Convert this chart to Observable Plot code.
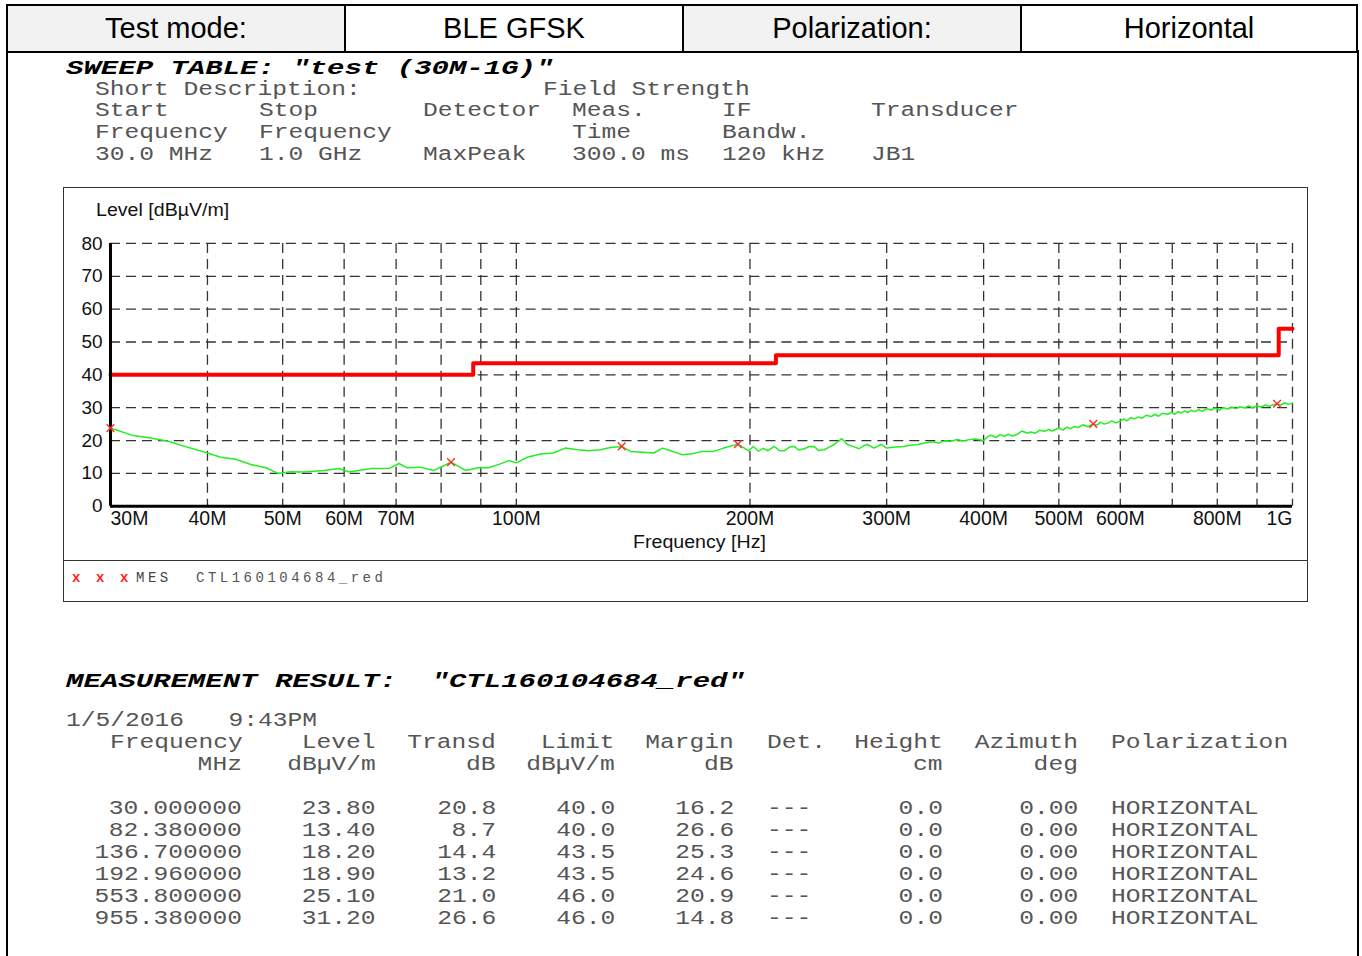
<!DOCTYPE html>
<html>
<head>
<meta charset="utf-8">
<script src="https://cdn.jsdelivr.net/npm/d3@7"></script>
<script src="https://cdn.jsdelivr.net/npm/@observablehq/plot@0.6"></script>
<style>
  html, body { margin: 0; padding: 0; background: #fff; }
  #page { position: relative; width: 1362px; height: 956px; overflow: hidden; background: #fff; }
  .abs { position: absolute; white-space: pre; }
  .mono { font-family: "Liberation Mono", "Courier New", monospace; font-size: 20.5px; line-height: 20px; color: #555; transform: scaleX(1.2); }
  .head { font-family: "Liberation Mono", "Courier New", monospace; font-size: 20.5px; line-height: 20px; font-weight: bold; font-style: italic; color: #000; transform: scaleX(1.415); }
  .cell { position: absolute; top: 4px; height: 49px; box-sizing: border-box; border: 2px solid #000; display: flex; align-items: center; justify-content: center; font-family: "Liberation Sans", Arial, sans-serif; font-size: 29px; color: #000; }
  #frame { position: absolute; left: 6px; top: 50px; width: 1349px; height: 920px; border-left: 2px solid #000; border-right: 2px solid #000; }
  #chartbox { position: absolute; left: 63px; top: 187px; width: 1243px; height: 413px; border: 1.5px solid #333; }
  #legendline { position: absolute; left: 0; top: 372px; width: 1243px; height: 0; border-top: 1.5px solid #333; }
</style>
</head>
<body>
<div id="page">
  <div id="frame"></div>
  <div class="cell" style="left:6px;width:340px;background:#f2f2f2">Test mode:</div>
  <div class="cell" style="left:344px;width:340px;background:#fff">BLE GFSK</div>
  <div class="cell" style="left:682px;width:340px;background:#f2f2f2">Polarization:</div>
  <div class="cell" style="left:1020px;width:338px;background:#fff">Horizontal</div>
  <div id="chartbox"><div id="legendline"></div></div>
</div>
<script>
// ---------- data ----------
const traceFreq = [30,32.1,33.8,35.6,37.3,40,41.6,43.5,45.5,47.6,49.3,51.2,53.3,56.5,59.1,60.9,65,68.7,70.6,72.3,75.2,78.3,82.38,86,89.4,92.1,95.4,97.7,100,
  103.3,107.5,111.5,115.6,120,124,128.4,132.2,136.7,140.3,150.4,154.2,158,163.6,168.5,173.5,179.6,185,192.96,199,202,205,208,211,215,218,221.5,225,228.3,231,235,238,242,245,249.3,253,256.7,262.6,267,271,276.5,280,283.4,289,294.9,300,
  308,316,322,329,335,340.6,345.7,350,356,363.4,370,376,381.8,390,400,405,409.2,415,420,425.6,430,436,442.9,448,455,460.6,466,472,479.1,485,490,500,
  506,512,518,523.7,530,537,545,553.8,560,566,572,578.3,585,592,600,606,612,619,625.7,633,640,648,657.5,665,672,680,691,698,705,712,718.8,726,733,740,748.1,757,765,775,785.8,795,805,815,825.6,835,845,856,867.5,878,889,900,910.9,922,933,944,955.38,966,977,988,1000];
const traceLevel = [23.8,21.5,20.8,19.8,18.3,16.2,14.9,14.3,12.7,11.7,10.0,10.5,10.4,10.9,11.5,10.4,11.5,11.6,13.0,11.7,11.9,10.9,13.4,10.9,11.7,11.7,12.9,13.9,13.2,
  14.9,15.9,16.2,17.7,17.2,16.9,17.2,17.9,18.2,16.7,16.2,17.7,16.9,15.7,16.0,16.7,16.7,17.7,18.9,16.9,18.2,16.8,17.6,16.9,18.2,17.0,16.9,18.0,18.2,17.1,17.5,18.1,18.2,17.0,17.2,18.0,18.8,20.6,18.8,18.3,17.5,18.4,18.8,17.7,18.8,17.7,
  18.0,18.2,18.6,18.8,19.2,19.5,19.6,19.2,19.9,19.8,20.3,19.9,20.2,20.5,20.0,21.2,21.6,20.9,21.8,21.3,21.9,21.4,22.0,22.9,22.3,22.6,22.2,23.1,22.8,23.4,22.9,23.8,
  23.2,24.1,23.6,24.3,24.0,24.8,24.2,25.1,24.7,25.6,25.0,25.3,26.0,25.4,25.9,26.6,26.0,27.0,26.6,27.2,26.8,27.7,27.3,28.0,27.4,28.3,28.0,28.6,28.0,28.8,28.4,29.0,28.5,29.2,28.8,29.4,28.9,29.7,29.3,29.9,29.3,30.0,29.6,30.2,29.7,30.3,29.9,30.5,30.0,30.6,30.2,30.8,30.4,30.9,31.2,30.8,31.5,31.0,31.4];

const limitFreq = [30, 88, 216, 960, 1000];
const limitLevel = [40, 43.5, 46, 54, 54];

const measFreq = [30.0, 82.38, 136.7, 192.96, 553.8, 955.38];
const measLevel = [23.80, 13.40, 18.20, 18.90, 25.10, 31.20];
const measTransd = [20.8, 8.7, 14.4, 13.2, 21.0, 26.6];
const measLimit = [40.0, 40.0, 43.5, 43.5, 46.0, 46.0];
const measMargin = [16.2, 26.6, 25.3, 24.6, 20.9, 14.8];

const yTicks = [0, 10, 20, 30, 40, 50, 60, 70, 80];
const gridFreqs = [40, 50, 60, 70, 80, 90, 100, 200, 300, 400, 500, 600, 700, 800, 900, 1000];
const xTickFreqs = [30, 40, 50, 60, 70, 100, 200, 300, 400, 500, 600, 800, 1000];
const xTickLabels = ["30M", "40M", "50M", "60M", "70M", "100M", "200M", "300M", "400M", "500M", "600M", "800M", "1G"];

// ---------- tables ----------
const trace = traceFreq.map((f, i) => ({f, v: traceLevel[i]}));
const limit = limitFreq.map((f, i) => ({f, v: limitLevel[i]}));
const meas = measFreq.map((f, i) => ({f, v: measLevel[i]}));
const xLabels = xTickFreqs.map((f, i) => ({f, t: xTickLabels[i]}));

const gridStyle = {stroke: "#333", strokeWidth: 1.3, strokeDasharray: "10,6"};
const tickText = {x: "f", text: "t", frameAnchor: "bottom", dy: 13, lineAnchor: "middle", fontSize: 19.5, fill: "#111"};

const chart = Plot.plot({
  width: 1244,
  height: 373,
  marginLeft: 46,
  marginRight: 15,
  marginTop: 55,
  marginBottom: 55,
  x: {type: "log", domain: [30, 1000], axis: null},
  y: {domain: [0, 80], axis: null},
  style: {fontFamily: "'Liberation Sans', Arial, sans-serif", fontSize: "19px", background: "transparent", color: "#000", overflow: "visible"},
  marks: [
    Plot.ruleY(yTicks.filter(d => d > 0), gridStyle),
    Plot.ruleX(gridFreqs, gridStyle),
    Plot.axisY({ticks: yTicks, tickSize: 0, tickPadding: 8, fontSize: 19, label: null, fill: "#111"}),
    Plot.text(xLabels.slice(0, 1), {...tickText, textAnchor: "start"}),
    Plot.text(xLabels.slice(1, -1), {...tickText, textAnchor: "middle"}),
    Plot.text(xLabels.slice(-1), {...tickText, textAnchor: "end"}),
    Plot.line(trace, {x: "f", y: "v", stroke: "#22ee22", strokeWidth: 1.5}),
    Plot.line(limit, {x: "f", y: "v", curve: "step-after", stroke: "#ff0000", strokeWidth: 4}),
    Plot.ruleX([30], {y1: 0, y2: 80, stroke: "#000", strokeWidth: 3}),
    Plot.ruleY([0], {stroke: "#000", strokeWidth: 3}),
    Plot.dot(meas, {x: "f", y: "v", symbol: "times", r: 3.6, stroke: "#ff2a2a", strokeWidth: 1.4})
  ]
});
chart.style.position = "absolute";
chart.style.left = "0px";
chart.style.top = "0px";
const box = document.getElementById("chartbox");
box.appendChild(chart);

function put(parent, text, x, yc, cls, anchor, extra) {
  const d = document.createElement("div");
  d.className = "abs " + cls;
  d.textContent = text;
  d.style.top = (yc - 10) + "px";
  if (anchor === "end") { d.style.right = (1362 - x) + "px"; d.style.transformOrigin = "right center"; }
  else { d.style.left = x + "px"; d.style.transformOrigin = "left center"; }
  if (extra) Object.assign(d.style, extra);
  parent.appendChild(d);
  return d;
}

// axis titles (inside chart box coords)
const sansLbl = {fontFamily: "'Liberation Sans', Arial, sans-serif", fontSize: "17.5px", lineHeight: "20px", color: "#111", transform: "scaleX(1.12)"};
put(box, "Level [dBµV/m]", 32, 22, "", "start", sansLbl);
put(box, "Frequency [Hz]", 569, 354, "", "start", sansLbl);

// legend row
const legendStyle = {fontFamily: "'Liberation Mono', monospace", fontSize: "14px", lineHeight: "20px", letterSpacing: "3.5px"};
[8, 32, 56].forEach(x => put(box, "x", x, 390, "", "start", Object.assign({}, legendStyle, {color: "#ff2020", fontWeight: "bold"})));
put(box, "MES", 72, 390, "", "start", Object.assign({}, legendStyle, {color: "#444"}));
put(box, "CTL160104684_red", 132, 390, "", "start", Object.assign({}, legendStyle, {color: "#555"}));

const page = document.getElementById("page");
// sweep table
put(page, 'SWEEP TABLE: "test (30M-1G)"', 66, 69, "head", "start", {lineHeight: "16px", top: "61px"});
put(page, "Short Description:", 95, 90, "mono", "start", {lineHeight: "16px", top: "82px"});
put(page, "Field Strength", 543, 90, "mono", "start", {lineHeight: "16px", top: "82px"});
[["Start", 95], ["Stop", 259], ["Detector", 423], ["Meas.", 572], ["IF", 722], ["Transducer", 871]].forEach(([t, x]) => put(page, t, x, 111, "mono"));
[["Frequency", 95], ["Frequency", 259], ["Time", 572], ["Bandw.", 722]].forEach(([t, x]) => put(page, t, x, 133, "mono"));
[["30.0 MHz", 95], ["1.0 GHz", 259], ["MaxPeak", 423], ["300.0 ms", 572], ["120 kHz", 722], ["JB1", 871]].forEach(([t, x]) => put(page, t, x, 155, "mono"));

// measurement result
put(page, 'MEASUREMENT RESULT:  "CTL160104684_red"', 66, 682, "head");
put(page, "1/5/2016   9:43PM", 66, 721, "mono");
put(page, "Frequency", 110, 743, "mono");
[["Level", 376], ["Transd", 496], ["Limit", 615], ["Margin", 734], ["Height", 943], ["Azimuth", 1078]].forEach(([t, x]) => put(page, t, x, 743, "mono", "end"));
put(page, "Det.", 767, 743, "mono");
put(page, "Polarization", 1111, 743, "mono");
[["MHz", 242], ["dBµV/m", 376], ["dB", 496], ["dBµV/m", 615], ["dB", 734], ["cm", 943], ["deg", 1078]].forEach(([t, x]) => put(page, t, x, 765, "mono", "end"));
measFreq.forEach((f, i) => {
  const y = 809 + 22 * i;
  put(page, f.toFixed(6), 242, y, "mono", "end");
  put(page, measLevel[i].toFixed(2), 376, y, "mono", "end");
  put(page, measTransd[i].toFixed(1), 496, y, "mono", "end");
  put(page, measLimit[i].toFixed(1), 615, y, "mono", "end");
  put(page, measMargin[i].toFixed(1), 734, y, "mono", "end");
  put(page, "---", 767, y, "mono");
  put(page, "0.0", 943, y, "mono", "end");
  put(page, "0.00", 1078, y, "mono", "end");
  put(page, "HORIZONTAL", 1111, y, "mono");
});
</script>
</body>
</html>
